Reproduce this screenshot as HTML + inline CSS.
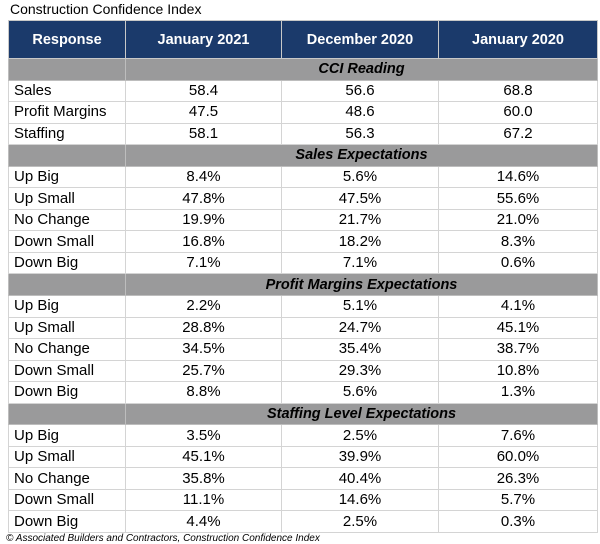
<!DOCTYPE html>
<html><head><meta charset="utf-8"><style>
body{margin:0;width:600px;height:544px;background:#fff;font-family:"Liberation Sans",Arial,sans-serif;position:relative;overflow:hidden}
.t{position:absolute;left:10px;top:1px;font-size:14px;color:#000}
table{position:absolute;left:8px;top:20px;border-collapse:collapse;table-layout:fixed;width:589px}
td,th{padding:0;font-size:15px;color:#000;border:1px solid #d4d4d4;height:20.55px;line-height:20px;text-align:center}
th{background:#1b3a6b;color:#fff;font-weight:bold;height:37px;border:1px solid #c8c8c8;font-size:14.5px}
td.l{text-align:left;padding-left:5px}
tr.s td{background:#9a9a9b;font-weight:bold;font-style:italic;border-color:#bdbdbd;font-size:14.5px}
.f{position:absolute;left:6px;top:533px;font-size:10px;font-style:italic;color:#000}
</style></head><body>
<div class="t">Construction Confidence Index</div>
<table>
<colgroup><col style="width:117px"><col style="width:156px"><col style="width:157px"><col style="width:159px"></colgroup>
<tr><th>Response</th><th>January 2021</th><th>December 2020</th><th>January 2020</th></tr>
<tr class="s"><td></td><td colspan="3">CCI Reading</td></tr>
<tr><td class="l">Sales</td><td>58.4</td><td>56.6</td><td>68.8</td></tr>
<tr><td class="l">Profit Margins</td><td>47.5</td><td>48.6</td><td>60.0</td></tr>
<tr><td class="l">Staffing</td><td>58.1</td><td>56.3</td><td>67.2</td></tr>
<tr class="s"><td></td><td colspan="3">Sales Expectations</td></tr>
<tr><td class="l">Up Big</td><td>8.4%</td><td>5.6%</td><td>14.6%</td></tr>
<tr><td class="l">Up Small</td><td>47.8%</td><td>47.5%</td><td>55.6%</td></tr>
<tr><td class="l">No Change</td><td>19.9%</td><td>21.7%</td><td>21.0%</td></tr>
<tr><td class="l">Down Small</td><td>16.8%</td><td>18.2%</td><td>8.3%</td></tr>
<tr><td class="l">Down Big</td><td>7.1%</td><td>7.1%</td><td>0.6%</td></tr>
<tr class="s"><td></td><td colspan="3">Profit Margins Expectations</td></tr>
<tr><td class="l">Up Big</td><td>2.2%</td><td>5.1%</td><td>4.1%</td></tr>
<tr><td class="l">Up Small</td><td>28.8%</td><td>24.7%</td><td>45.1%</td></tr>
<tr><td class="l">No Change</td><td>34.5%</td><td>35.4%</td><td>38.7%</td></tr>
<tr><td class="l">Down Small</td><td>25.7%</td><td>29.3%</td><td>10.8%</td></tr>
<tr><td class="l">Down Big</td><td>8.8%</td><td>5.6%</td><td>1.3%</td></tr>
<tr class="s"><td></td><td colspan="3">Staffing Level Expectations</td></tr>
<tr><td class="l">Up Big</td><td>3.5%</td><td>2.5%</td><td>7.6%</td></tr>
<tr><td class="l">Up Small</td><td>45.1%</td><td>39.9%</td><td>60.0%</td></tr>
<tr><td class="l">No Change</td><td>35.8%</td><td>40.4%</td><td>26.3%</td></tr>
<tr><td class="l">Down Small</td><td>11.1%</td><td>14.6%</td><td>5.7%</td></tr>
<tr><td class="l">Down Big</td><td>4.4%</td><td>2.5%</td><td>0.3%</td></tr>
</table>
<div class="f">© Associated Builders and Contractors, Construction Confidence Index</div>
</body></html>
